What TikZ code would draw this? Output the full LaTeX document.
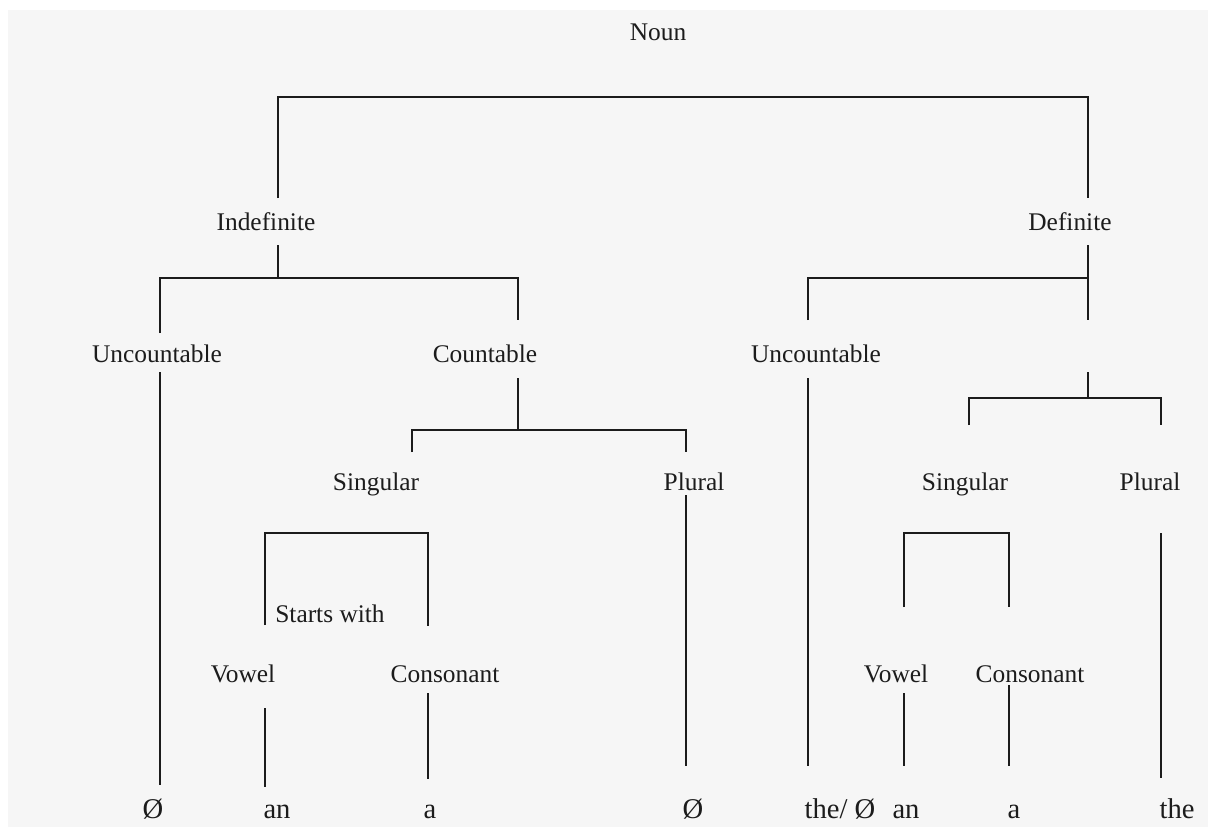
\documentclass[tikz,border=0pt]{standalone}
\usepackage{fontspec}
\setmainfont{Liberation Serif}
\usetikzlibrary{positioning}
\definecolor{pagegray}{RGB}{246,246,246}
\definecolor{ink}{RGB}{28,28,28}
\begin{document}
\begin{tikzpicture}[x=0.5pt,y={(0,-0.5pt)},
 lbl/.style={anchor=base,inner sep=0pt,text=ink,font=\fontsize{12.7}{15}\selectfont},
 art/.style={anchor=base,inner sep=0pt,text=ink,font=\fontsize{14.3}{17}\selectfont},
 br/.style={draw=ink,line width=0.8pt}]
\useasboundingbox (0,0) rectangle (1208,827);
\fill[white] (0,0) rectangle (1208,827);
\fill[pagegray] (8,10) rectangle (1208,827);
\node[lbl] (noun) at (658,40) {Noun};
\node[lbl] (indef) at (266,230) {Indefinite};
\node[lbl] (def) at (1070,230) {Definite};
\node[lbl] (uncL) at (157,362) {Uncountable};
\node[lbl] (cnt) at (485,362) {Countable};
\node[lbl] (uncR) at (816,362) {Uncountable};
\node[lbl] (sgL) at (376,490) {Singular};
\node[lbl] (plL) at (694,490) {Plural};
\node[lbl] (sgR) at (965,490) {Singular};
\node[lbl] (plR) at (1150,490) {Plural};
\node[lbl] (starts) at (330,622) {Starts with};
\node[lbl] (vowL) at (243,682) {Vowel};
\node[lbl] (conL) at (445,682) {Consonant};
\node[lbl] (vowR) at (896,682) {Vowel};
\node[lbl] (conR) at (1030,682) {Consonant};
\node[art] (zeroL) at (153,818) {Ø};
\node[art] (anL) at (277,818) {an};
\node[art] (aL) at (430,818) {a};
\node[art] (zeroP) at (693,818) {Ø};
\node[art] (thezero) at (840,818) {the/ Ø};
\node[art] (anR) at (906,818) {an};
\node[art] (aR) at (1014,818) {a};
\node[art] (theR) at (1177,818) {the};
\coordinate (nounbar) at (683,97);
\coordinate (indef-in) at (278,198);
\coordinate (def-in) at (1088,198);
\coordinate (indef-out) at (278,245);
\coordinate (indef-bar) at (278,278);
\coordinate (uncL-in) at (160,333);
\coordinate (cnt-in) at (518,320);
\coordinate (def-out) at (1088,245);
\coordinate (def-mid) at (1088,320);
\coordinate (uncR-in) at (808,320);
\coordinate (uncL-out) at (160,372);
\coordinate (uncL-end) at (160,785);
\coordinate (cnt-out) at (518,378);
\coordinate (cnt-bar) at (518,430);
\coordinate (sgL-in) at (412,452);
\coordinate (plL-in) at (686,452);
\coordinate (uncR-out) at (808,378);
\coordinate (uncR-end) at (808,766);
\coordinate (num-out) at (1088,372);
\coordinate (num-bar) at (1088,398);
\coordinate (sgR-in) at (969,425);
\coordinate (plR-in) at (1161,425);
\coordinate (sgL-bar) at (346,533);
\coordinate (vowL-in) at (265,625);
\coordinate (conL-in) at (428,626);
\coordinate (vowL-out) at (265,708);
\coordinate (vowL-end) at (265,787);
\coordinate (conL-out) at (428,693);
\coordinate (conL-end) at (428,779);
\coordinate (plL-out) at (686,495);
\coordinate (plL-end) at (686,766);
\coordinate (sgR-bar) at (956,533);
\coordinate (vowR-in) at (904,607);
\coordinate (conR-in) at (1009,607);
\coordinate (plR-out) at (1161,533);
\coordinate (plR-end) at (1161,778);
\coordinate (vowR-out) at (904,693);
\coordinate (vowR-end) at (904,766);
\coordinate (conR-out) at (1009,685);
\coordinate (conR-end) at (1009,766);
\draw[br] (indef-in) |- (nounbar) -| (def-in);
\draw[br] (indef-out) -- (indef-bar);
\draw[br] (uncL-in) |- (indef-bar) -| (cnt-in);
\draw[br] (def-out) -- (def-mid);
\draw[br] (uncR-in) |- (def-out |- indef-bar);
\draw[br] (uncL-out) -- (uncL-end);
\draw[br] (cnt-out) -- (cnt-bar);
\draw[br] (sgL-in) |- (cnt-bar) -| (plL-in);
\draw[br] (uncR-out) -- (uncR-end);
\draw[br] (num-out) -- (num-bar);
\draw[br] (sgR-in) |- (num-bar) -| (plR-in);
\draw[br] (vowL-in) |- (sgL-bar) -| (conL-in);
\draw[br] (vowL-out) -- (vowL-end);
\draw[br] (conL-out) -- (conL-end);
\draw[br] (plL-out) -- (plL-end);
\draw[br] (vowR-in) |- (sgR-bar) -| (conR-in);
\draw[br] (plR-out) -- (plR-end);
\draw[br] (vowR-out) -- (vowR-end);
\draw[br] (conR-out) -- (conR-end);
\end{tikzpicture}
\end{document}
